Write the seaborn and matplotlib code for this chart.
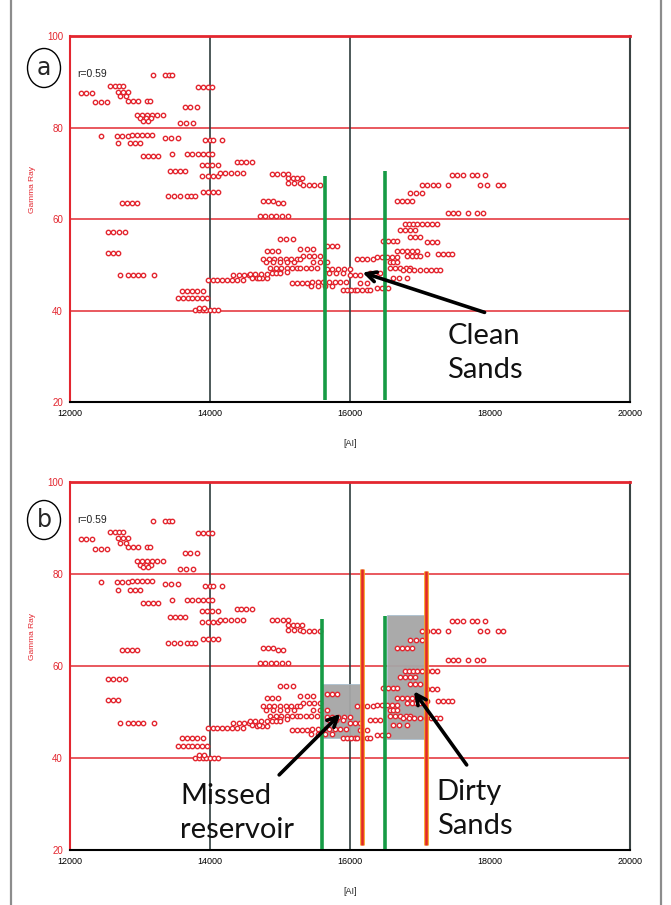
import matplotlib
matplotlib.use("Agg")
import matplotlib.pyplot as plt
import matplotlib.patheffects as pe
from matplotlib.patches import Ellipse, Rectangle
from matplotlib.lines import Line2D
import pandas as pd
import seaborn as sns

sns.set_style("white")
plt.rcParams['font.family'] = ['Liberation Sans', 'DejaVu Sans']

# --- Data: acoustic impedance vs gamma ray ---
samples = [
    (13190, 91.5), (13360, 91.5), (13420, 91.5), (13460, 91.5),
    (12570, 89.1), (12640, 89.1), (12700, 89.1), (12760, 89.1),
    (13830, 88.9), (13900, 88.9), (13970, 88.9), (14030, 88.9),
    (12160, 87.6), (12230, 87.6), (12310, 87.6),
    (12690, 87.8), (12760, 87.8), (12830, 87.8), (12720, 86.8), (12800, 86.8),
    (12360, 85.5), (12440, 85.5), (12530, 85.5),
    (12830, 85.8), (12900, 85.8), (12970, 85.8), (13100, 85.8), (13140, 85.8),
    (13640, 84.5), (13720, 84.5), (13810, 84.5),
    (12960, 82.8), (13030, 82.8), (13100, 82.8), (13170, 82.8), (13250, 82.8), (13330, 82.8),
    (13000, 82.0), (13080, 82.0), (13160, 82.0), (13050, 81.5), (13120, 81.5),
    (13570, 81.0), (13660, 81.0), (13760, 81.0),
    (12450, 78.2), (12670, 78.2), (12740, 78.2), (12830, 78.2), (12690, 76.6),
    (12890, 78.4), (12960, 78.4), (13030, 78.4), (13100, 78.4), (13170, 78.4),
    (12860, 76.6), (12930, 76.6), (13000, 76.6),
    (13360, 77.8), (13450, 77.8), (13540, 77.8),
    (13930, 77.3), (14000, 77.3), (14040, 77.3), (14170, 77.3),
    (13040, 73.8), (13110, 73.8), (13180, 73.8), (13260, 73.8),
    (13460, 74.3), (13670, 74.3), (13740, 74.3),
    (13830, 74.3), (13900, 74.3), (13970, 74.3), (14030, 74.3),
    (13890, 71.9), (13960, 71.9), (14030, 71.9), (14110, 71.9),
    (13430, 70.6), (13500, 70.6), (13570, 70.6), (13640, 70.6),
    (13890, 69.5), (13970, 69.5), (14050, 69.5), (14110, 69.5),
    (14380, 72.4), (14450, 72.4), (14520, 72.4), (14600, 72.4),
    (14140, 70.0), (14220, 70.0), (14300, 70.0), (14380, 70.0), (14470, 70.0),
    (14890, 69.9), (14960, 69.9), (15040, 69.9), (15110, 69.9),
    (15110, 69.0), (15180, 69.0), (15250, 69.0), (15310, 69.0),
    (15110, 67.8), (15200, 67.8), (15290, 67.8),
    (15330, 67.5), (15410, 67.5), (15490, 67.5), (15570, 67.5),
    (13900, 65.8), (13970, 65.8), (14040, 65.8), (14110, 65.8),
    (13400, 65.1), (13480, 65.1), (13570, 65.1), (13670, 65.1), (13730, 65.1), (13790, 65.1),
    (12740, 63.4), (12810, 63.4), (12890, 63.4), (12960, 63.4),
    (14760, 64.0), (14830, 64.0), (14900, 64.0), (14970, 63.5), (15040, 63.5),
    (14710, 60.6), (14790, 60.6), (14870, 60.6), (14950, 60.6), (15030, 60.6), (15110, 60.6),
    (12540, 57.1), (12620, 57.1), (12700, 57.1), (12790, 57.1),
    (12540, 52.5), (12610, 52.5), (12690, 52.5),
    (12710, 47.7), (12830, 47.7), (12900, 47.7), (12970, 47.7), (13040, 47.7), (13200, 47.7),
    (13970, 46.6), (14040, 46.6), (14100, 46.6), (14170, 46.6), (14240, 46.6),
    (14310, 46.6), (14390, 46.6), (14470, 46.6),
    (13600, 44.3), (13670, 44.3), (13750, 44.3), (13820, 44.3), (13900, 44.3),
    (13540, 42.7), (13610, 42.7), (13680, 42.7), (13750, 42.7), (13820, 42.7), (13890, 42.7), (13960, 42.7),
    (13790, 40.1), (13850, 40.1), (13900, 40.1), (13950, 40.1), (14000, 40.1), (14060, 40.1), (14110, 40.1),
    (13850, 40.6), (13920, 40.6),
    (15000, 55.6), (15090, 55.6), (15190, 55.6),
    (15290, 53.5), (15380, 53.5), (15470, 53.5),
    (15670, 54.0), (15740, 54.0), (15810, 54.0),
    (14810, 53.1), (14890, 53.1), (14970, 53.1),
    (15330, 52.0), (15410, 52.0), (15490, 52.0), (15570, 52.0),
    (14760, 51.2), (14840, 51.2), (14920, 51.2), (15000, 51.2), (15080, 51.2), (15160, 51.2), (15240, 51.2), (15290, 51.2),
    (14800, 50.5), (14900, 50.5), (15000, 50.5), (15100, 50.5), (15200, 50.5),
    (15470, 50.5), (15570, 50.5), (15670, 50.5),
    (14860, 49.2), (14940, 49.2), (15020, 49.2), (15100, 49.2), (15170, 49.2), (15240, 49.2),
    (14900, 48.5), (15000, 48.5), (15100, 48.5),
    (15290, 49.2), (15370, 49.2), (15450, 49.2), (15530, 49.2),
    (15670, 49.0), (15750, 49.0), (15830, 49.0), (15910, 49.0), (16000, 49.0),
    (15700, 48.2), (15800, 48.2), (15900, 48.2),
    (14330, 47.7), (14410, 47.7), (14490, 47.7), (14560, 47.7), (14640, 47.7),
    (14670, 47.0), (14740, 47.0), (14810, 47.0),
    (14890, 48.1), (14950, 48.1), (15000, 48.1),
    (15170, 46.0), (15240, 46.0), (15310, 46.0), (15380, 46.0),
    (15460, 46.2), (15540, 46.2), (15620, 46.2), (15700, 46.2), (15780, 46.2), (15860, 46.2), (15940, 46.2),
    (15450, 45.3), (15550, 45.3), (15650, 45.3), (15750, 45.3),
    (15900, 44.4), (15960, 44.4), (16020, 44.4), (16070, 44.4),
    (16100, 44.4), (16170, 44.4), (16240, 44.4), (16290, 44.4),
    (16100, 51.2), (16170, 51.2), (16240, 51.2), (16330, 51.2),
    (16390, 51.6), (16460, 51.6), (16530, 51.6), (16600, 51.6), (16670, 51.6),
    (14570, 48.0), (14650, 48.0), (14730, 48.0), (14810, 48.0), (14600, 47.2), (14700, 47.2),
    (16000, 47.7), (16070, 47.7), (16140, 47.7),
    (16140, 46.0), (16240, 46.0), (16390, 45.0), (16460, 45.0), (16540, 45.0),
    (16290, 48.3), (16360, 48.3), (16430, 48.3),
    (16570, 49.2), (16640, 49.2), (16720, 49.2), (16800, 49.2), (16860, 49.2),
    (16620, 47.2), (16700, 47.2), (16810, 47.2),
    (16760, 48.8), (16840, 48.8), (16920, 48.8), (17000, 48.8), (17080, 48.8), (17160, 48.8), (17230, 48.8), (17290, 48.8),
    (16670, 53.1), (16740, 53.1), (16810, 53.1), (16890, 53.1), (16960, 53.1),
    (16810, 52.0), (16880, 52.0), (16940, 52.0), (17000, 52.0),
    (16570, 50.5), (16620, 50.5), (16670, 50.5),
    (16470, 55.3), (16540, 55.3), (16610, 55.3), (16670, 55.3),
    (16860, 56.0), (16930, 56.0), (17000, 56.0),
    (17100, 54.9), (17170, 54.9), (17240, 54.9),
    (17100, 52.3), (17260, 52.3), (17330, 52.3), (17400, 52.3), (17460, 52.3),
    (16710, 57.5), (16780, 57.5), (16860, 57.5), (16930, 57.5),
    (16790, 59.0), (16850, 59.0), (16900, 59.0),
    (16960, 59.0), (17030, 59.0), (17100, 59.0), (17170, 59.0), (17240, 59.0),
    (16670, 64.0), (16740, 64.0), (16810, 64.0), (16890, 64.0),
    (16860, 65.6), (16940, 65.6), (17030, 65.6),
    (17030, 67.5), (17100, 67.5), (17180, 67.5), (17260, 67.5), (17400, 67.5),
    (17860, 67.5), (17960, 67.5), (18110, 67.5), (18180, 67.5),
    (17460, 69.7), (17530, 69.7), (17610, 69.7), (17740, 69.7), (17820, 69.7), (17930, 69.7),
    (17400, 61.4), (17470, 61.4), (17540, 61.4), (17690, 61.4), (17810, 61.4), (17900, 61.4),
]
df = pd.DataFrame(samples, columns=["ai", "gr"])

x_ticks = [12000, 14000, 16000, 18000, 20000]
y_ticks = [20, 40, 60, 80, 100]
grid_levels = [40, 60, 80]
well_lines = [14000, 16000]

# (x, top) of each cutoff line
green_top = [(15640, 69.5), (16500, 70.4)]
green_bottom = [(15600, 70.3), (16500, 70.8)]
red_bottom = [(16170, 81.0), (17090, 80.6)]

# shaded boxes (x0, x1, y0, y1)
boxes = [(15600, 16150, 44.4, 56.0), (16530, 17060, 44.2, 71.0)]

RED = "#e3262f"
GREEN = "#169b45"
CALLOUT = dict(fontsize=21, va="center", ha="left", family=["Lato", "DejaVu Sans"],
               linespacing=1.38, color="#111111")
ARROW = dict(arrowstyle="->", lw=2.6, color="black", mutation_scale=18)


def draw_panel(ax, letter, circle_y):
    ax.set_xlim(12000, 20000)
    ax.set_ylim(20, 100)
    for lvl in grid_levels:
        ax.axhline(lvl, color=RED, lw=1.2, alpha=0.9, zorder=1)
    for xv in well_lines:
        ax.axvline(xv, color="#2f3d3d", lw=1.2, zorder=1)

    sns.scatterplot(data=df, x="ai", y="gr", ax=ax, marker="o", s=10,
                    color="white", edgecolor=RED, linewidth=1.0, zorder=4, legend=False)

    ax.set_xticks(x_ticks)
    ax.set_yticks(y_ticks)
    ax.tick_params(axis="x", labelsize=6.5, colors="black", direction="in", length=3, pad=5)
    ax.tick_params(axis="y", labelsize=7, colors=RED, direction="out", length=3, pad=2)
    ax.set_xlabel("[AI]", fontsize=6.5, labelpad=15)
    ax.set_ylabel("Gamma Ray", fontsize=6, color=RED)
    ax.yaxis.set_label_coords(-0.06, 0.58)

    ax.spines["top"].set_color(RED)
    ax.spines["top"].set_linewidth(2)
    ax.spines["left"].set_color(RED)
    ax.spines["left"].set_linewidth(1.5)
    ax.spines["bottom"].set_color("black")
    ax.spines["bottom"].set_linewidth(1.5)
    ax.spines["right"].set_color("#3a4444")
    ax.spines["right"].set_linewidth(1.5)

    ax.text(12110, 91.8, "r=0.59", fontsize=7.5, color="#222222", va="center")

    fig.add_artist(Ellipse((44 / 671, 1 - circle_y / 905), 33 / 671, 39 / 905,
                           transform=fig.transFigure, fill=False, ec="black", lw=1))
    fig.text(44 / 671, 1 - circle_y / 905, letter, fontsize=17, ha="center", va="center",
             family=["DejaVu Sans"])


fig = plt.figure(figsize=(6.71, 9.05), dpi=100)
ax_a = fig.add_axes([0.1043, 0.5558, 0.8346, 0.4044])
ax_b = fig.add_axes([0.1043, 0.0608, 0.8346, 0.4066])

# --- panel a ---
draw_panel(ax_a, "a", 68)
for xv, top in green_top:
    ax_a.vlines(xv, 20.5, top, color=GREEN, lw=2.6, zorder=5)
ax_a.annotate("", xy=(16140, 48.5), xytext=(17960, 39.4), arrowprops=ARROW, zorder=6)
ax_a.text(17390, 30.8, "Clean\nSands", **CALLOUT)

# --- panel b ---
draw_panel(ax_b, "b", 520)
for x0, x1, y0, y1 in boxes:
    ax_b.add_patch(Rectangle((x0, y0), x1 - x0, y1 - y0, fc="#a6a6a6", ec="#a9bfcf",
                             lw=0.6, alpha=0.95, zorder=3))
for xv, top in green_bottom:
    ax_b.vlines(xv, 20.3, top, color=GREEN, lw=2.6, zorder=5)
for xv, top in red_bottom:
    ax_b.vlines(xv, 21.0, top, color="#e3262b", lw=1.8, zorder=5,
                path_effects=[pe.Stroke(linewidth=3.4, foreground="#f5a21e"), pe.Normal()])
ax_b.annotate("", xy=(15890, 50.0), xytext=(14960, 35.9), arrowprops=ARROW, zorder=6)
ax_b.annotate("", xy=(16890, 55.0), xytext=(17690, 38.0), arrowprops=ARROW, zorder=6)
ax_b.text(13570, 28.0, "Missed\nreservoir", **CALLOUT)
ax_b.text(17240, 29.0, "Dirty\nSands", **CALLOUT)

# --- page frame of the scanned figure ---
for fx in [11 / 671, 661 / 671]:
    fig.add_artist(Line2D([fx, fx], [0, 1], transform=fig.transFigure, color="#8c8c8c", lw=1.6))

fig.savefig("out.png", dpi=100)
